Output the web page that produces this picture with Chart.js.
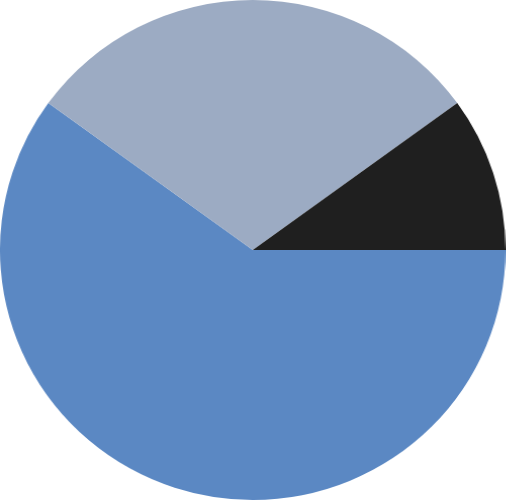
<!DOCTYPE html>
<html>
<head>
<meta charset="utf-8">
<script src="https://cdn.jsdelivr.net/npm/chart.js@4"></script>
<style>
  html, body { margin: 0; padding: 0; background: #fff; overflow: hidden; }
  #wrap { width: 500px; height: 500px; transform-origin: 0 0; transform: scaleX(1.011); }
</style>
</head>
<body>
<div id="wrap"><canvas id="pie"></canvas></div>
<script>
const labels = ['A', 'B', 'C'];
const values = [60, 30, 10];
const colors = ['#5b88c3', '#9cabc3', '#1f1f1f'];

new Chart(document.getElementById('pie').getContext('2d'), {
  type: 'pie',
  data: {
    labels: labels,
    datasets: [{ data: values, backgroundColor: colors, borderWidth: 0 }]
  },
  options: {
    responsive: true,
    maintainAspectRatio: false,
    animation: false,
    rotation: 90,
    layout: { padding: 0 },
    plugins: { legend: { display: false }, tooltip: { enabled: false } }
  }
});
</script>
</body>
</html>
